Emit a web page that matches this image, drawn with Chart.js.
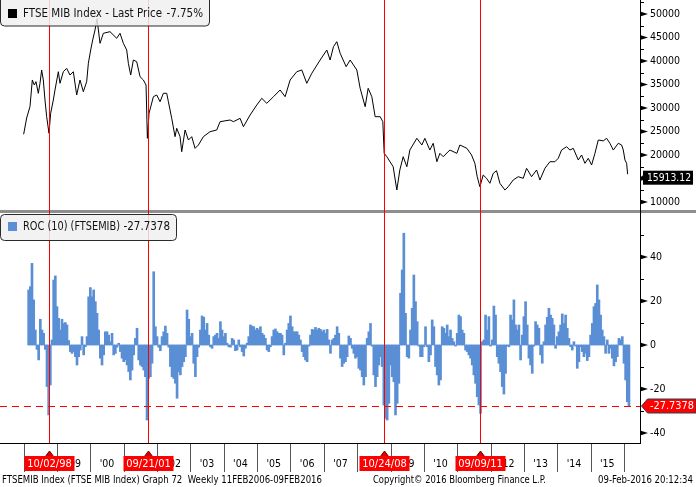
<!DOCTYPE html>
<html>
<head>
<meta charset="utf-8">
<script src="https://cdn.jsdelivr.net/npm/chart.js@4.4.0/dist/chart.umd.min.js"></script>
<style>
  html, body { margin: 0; padding: 0; background: #fff; }
  canvas { display: block; }
</style>
</head>
<body>
<canvas id="chart" width="696" height="487"></canvas>
<script>
// FTSE MIB weekly close (decimal year, index points)
const priceYears = [
  1998.00, 1998.09, 1998.19, 1998.26, 1998.32, 1998.37, 1998.44, 1998.49, 1998.54, 1998.59, 1998.64, 1998.69, 1998.76, 1998.81, 1998.89, 1998.94,
  1999.04, 1999.09, 1999.19, 1999.29, 1999.39, 1999.49, 1999.59, 1999.69, 1999.79, 1999.89, 1999.94,
  2000.01, 2000.07, 2000.14, 2000.20, 2000.29, 2000.39, 2000.59, 2000.79, 2000.89, 2000.99,
  2001.09, 2001.14, 2001.21, 2001.29, 2001.39, 2001.49, 2001.59, 2001.67, 2001.71, 2001.76, 2001.89, 2001.99,
  2002.09, 2002.19, 2002.29, 2002.34, 2002.44, 2002.54, 2002.59, 2002.69, 2002.74, 2002.84, 2002.94,
  2003.04, 2003.14, 2003.24, 2003.39, 2003.59, 2003.79, 2003.89,
  2004.19, 2004.29, 2004.49, 2004.59, 2004.79, 2004.99,
  2005.14, 2005.29, 2005.49, 2005.69, 2005.84, 2005.99,
  2006.19, 2006.34, 2006.49, 2006.64, 2006.89,
  2007.09, 2007.19, 2007.29, 2007.39, 2007.49, 2007.67, 2007.79, 2007.89, 2007.99,
  2008.09, 2008.24, 2008.33, 2008.44, 2008.54, 2008.69, 2008.77, 2008.81, 2008.89,
  2009.08, 2009.19, 2009.28, 2009.38, 2009.49, 2009.58, 2009.79, 2009.94,
  2010.03, 2010.18, 2010.28, 2010.39, 2010.48, 2010.58, 2010.78, 2010.99,
  2011.08, 2011.29, 2011.43, 2011.53, 2011.60, 2011.68, 2011.78, 2011.88, 2011.98,
  2012.08, 2012.18, 2012.28, 2012.43, 2012.53, 2012.68, 2012.83, 2012.98,
  2013.08, 2013.23, 2013.38, 2013.48, 2013.63, 2013.78, 2013.93,
  2014.03, 2014.13, 2014.28, 2014.38, 2014.48, 2014.63, 2014.73, 2014.83, 2014.93,
  2015.03, 2015.13, 2015.23, 2015.38, 2015.48, 2015.58, 2015.68, 2015.83, 2015.93, 2015.98,
  2016.03, 2016.08, 2016.11
]
const priceVals = [
  24400, 27870, 30280, 35960, 34890, 35600, 33130, 35250, 38090, 35960, 31700, 28150, 24620, 28870, 31700, 33830,
  37720, 35250, 37720, 38440, 37020, 37720, 32770, 35960, 33470, 35600, 39510,
  42340, 44470, 46600, 49000, 43760, 45900, 46240, 44830, 45900, 43760,
  42340, 39510, 37020, 40210, 39850, 36660, 35960, 34890, 23550, 28870, 32400, 32770,
  31340, 33130, 33130, 31340, 27800, 23900, 25680, 23900, 20700, 25320, 23190,
  23900, 21420, 22130, 23900, 24960, 25320, 27090,
  27450, 27090, 27800, 26020, 28510, 30640,
  32060, 31000, 32400, 33830, 32400, 35960,
  37720, 38090, 35250, 37380, 40210,
  42340, 40210, 43050, 44110, 41640, 38790, 40210, 39150, 38090,
  34190, 30280, 34190, 32400, 28150, 28150, 27090, 20360, 19640,
  17510, 12550, 16810, 19640, 17510, 21060, 23550, 22130,
  23550, 21060, 22490, 18570, 20360, 19640, 21060, 20360,
  22130, 21420, 20000, 18230, 15380, 13250, 15740, 15040, 13980,
  16100, 16660, 13980, 12550, 13250, 14680, 15380, 15040,
  17170, 15380, 16810, 14680, 17170, 18570, 18570,
  19300, 21060, 21770, 21060, 21420, 18940, 20000, 18230, 19300,
  17870, 20360, 23190, 23000, 23550, 22490, 21060, 22490, 22130, 21060,
  18940, 18230, 15913.12
]

// ROC(10) in %, sampled every 0.05 year from 1998.15
const rocStart = 1998.15
const rocStep = 0.05
const rocVals = [
  25.0, 26.5, 37.1, 20.5, 6.8, -2, -6.8, 11.7, 6.8, 5.3,
  -2, -18.9, -31.8, -18.2, 2.3, 29.5, 31.4, 17.4, 12.1, 6.8,
  11.7, 9.8, 10.2, 9.1, 2, -3, -3.8, -3, -5.3, -9.1,
  -5.3, -2.3, 3.8, -4.5, -0.8, 3.8, 21.9, 26.1, 21.9, 25,
  19.7, 14.4, 6.8, -6, -9.1, -4.5, 6, 6, 4.5, 1.5,
  5.3, -4.5, -3.8, -1, 0.8, -3, -6, -7.6, -6.8, -9.1,
  -12.1, -15.9, -11.4, -4.5, 3, 7.6, -6.8, -9.1, -9.8, -11.4,
  -14.4, -34.1, -15.2, -14.4, -8.3, 33.3, 8.3, 3.8, -1, -2.6,
  3.8, 6, 8.6, 5.3, -1, -9.8, -14.4, -15.2, -17.4, -24.2,
  -12.1, -13.6, -9.8, -7.6, -5.3, 15.9, 11.7, 3.8, 5.3, -8.3,
  -14.4, -5.3, -1, 6.8, 13.2, 12.6, 6.8, 9.8, 4.5, -0.8,
  -1.5, 3.8, 4.5, 5.3, 3, 10.6, 6.8, 3.8, 5.3, 0.8,
  -0.8, -1, 3, 2.3, -2.6, -2.3, 2.3, -0.8, -3, -5,
  -1.5, 0.8, 3.8,
  9.1, 8.6, 8.3, 6.8, 7.6, 6.8, 8.3, 5.3, 4.5, 3,
  -2.3, -3, -0.8, 3.8, 6.8, 7.3, 6, 5.3, 5.3, 4.5,
  -4.5, 0.8, 6.8, 9.8, 13.2, 8.3, 6, 6, 6, 4.5,
  2.3, -3, -5.3, -6.8, -7.6, -0.5, 4.5, 7.1, 6.8, 8,
  6.8, 7.6, 7.1, 6, 6.8, 5.3, 7.1, 2.3, -3.8, 2.3,
  3, 4.5, 8.3, 5.3, -6, -9.8, -8.3, -7.6, -5.3, 4.1,
  3, -1.5, -3.8, -6, -5.3, -10.6, -11.4, -14.4, -18.2, -14.4,
  3, 6, 9.8, -0.5, -13.6, -18.9, -14.4, -9.1, -5.3, -9.8,
  -27.3, -33.3, -34.1, -26.5, -9.1, -14.4, -16.7, -31.8, -26.5, -17.4,
  23.5, 34.1, 50.8, 14.4, -5.3, -6, 6.8, 16.7, 31.8, 19.7,
  10.6, -0.5, -5.3, -5.3, -0.8, 8.3, -0.8, -7.6, -4.5, 11.4,
  8.3, -9.8, -13.6, -18.2, -15.9, 8.3, 7.6, 5.3, 9.1, 3.8,
  6.8, 3, 1.5, -0.5, 5.3, 13.6, 12.9, 6.8, 5.3,
  -2.3, -3, -4.5, -6, -9.1, -13.6, -17.4, -23.5, -27.3, -31.1,
  1.5, 2.3, 13.6, 6.8, 12.9, -0.5, 2.3, 17.7, 13.6, -5.3,
  -8.3, -12.1, -18.9, -22.3, -12.9, -0.5, -0.8, 13.6, 11.4, 20.5,
  9.1, 6.8, 9.1, -6.8, 4.5, 12.9, 19.7, 9.1, -6, -9.1,
  -12.9, -0.5, 10.6, 9.1, 7.6, -4.5, -8.3, 1.5, 9.1, 12.6,
  16.7, 13.6, 12.1, 9.1, -1.5, 3.8, 6, 9.1, 14.1, 9.8,
  13.6, 7.6, 3, -0.8, -2.3, 1.5, -0.5, -10.6, -7.6, -0.8,
  -3, -5.3, -3.8, -7.1, -5.3, 4.5, 9.8, 17.4, 18.9, 27.3,
  20.5, 13.6, 6.8, 3.8, -3.8, 2.3, -3.8, -1.5, -6, -9.5,
  -7.6, -5.3, 3, 2.3, 3.8, -8.3, -15.9, -25.8, -27.7378
]

const eventDates = [1998.751, 2001.721, 2008.811, 2011.688]
const eventLabels = ['10/02/98', '09/21/01', '10/24/08', '09/09/11']
const yearTicks = [1998, 1999, 2000, 2001, 2002, 2003, 2004, 2005, 2006, 2007, 2008, 2009, 2010, 2011, 2012, 2013, 2014, 2015, 2016]
const priceTicks = [10000, 15000, 20000, 25000, 30000, 35000, 40000, 45000, 50000]
const rocTicks = [-40, -20, 0, 20, 40]
const lastPrice = 15913.12
const lastRoc = -27.7378
const priceChange = '-7.75%'

const FONT = '"DejaVu Sans Condensed", "Liberation Sans", sans-serif'

function label(ctx, s, x, y, size, color, align, maxW) {
      ctx.font = size + 'px ' + FONT
      ctx.fillStyle = color
      ctx.textAlign = align || 'left'
      ctx.textBaseline = 'middle'
      if (maxW) ctx.fillText(s, x, y, maxW)
      else ctx.fillText(s, x, y)
}

function roundBox(ctx, x, y, w, h, rad) {
      ctx.beginPath()
      ctx.moveTo(x + rad, y)
      ctx.lineTo(x + w - rad, y)
      ctx.quadraticCurveTo(x + w, y, x + w, y + rad)
      ctx.lineTo(x + w, y + h - rad)
      ctx.quadraticCurveTo(x + w, y + h, x + w - rad, y + h)
      ctx.lineTo(x + rad, y + h)
      ctx.quadraticCurveTo(x, y + h, x, y + h - rad)
      ctx.lineTo(x, y + rad)
      ctx.quadraticCurveTo(x, y, x + rad, y)
      ctx.closePath()
}

const overlay = {
      id: 'overlay',
      afterDatasetsDraw(chart) {
            const ctx = chart.ctx
            const area = chart.chartArea
            const x = chart.scales.x
            const y = chart.scales.y
            const r = chart.scales.r
            const W = chart.width
            ctx.save()

            // pane separator
            ctx.fillStyle = '#8e8e8e'
            ctx.fillRect(0, y.bottom - 1, W, 3)

            // event lines
            ctx.strokeStyle = '#ff0000'
            ctx.lineWidth = 1
            eventDates.forEach(d => {
                  const px = Math.round(x.getPixelForValue(d)) + 0.5
                  ctx.beginPath()
                  ctx.moveTo(px, 0)
                  ctx.lineTo(px, area.bottom)
                  ctx.stroke()
            })

            // last ROC dashed level
            const ry = Math.round(r.getPixelForValue(lastRoc)) + 0.5
            ctx.setLineDash([7, 5])
            ctx.beginPath()
            ctx.moveTo(0, ry)
            ctx.lineTo(area.right, ry)
            ctx.stroke()
            ctx.setLineDash([])

            // axes lines
            ctx.strokeStyle = '#000'
            ctx.beginPath()
            ctx.moveTo(area.right + 0.5, 0)
            ctx.lineTo(area.right + 0.5, area.bottom + 1)
            ctx.moveTo(0, area.bottom + 0.5)
            ctx.lineTo(area.right + 1, area.bottom + 0.5)
            ctx.stroke()

            // right ticks
            const drawTicks = (scale, majors, minorStep, fmt) => {
                  const allMinor = []
                  for (let v = majors[0] - minorStep; v <= scale.max; v += minorStep * 2) allMinor.push(v)
                  allMinor.forEach(v => {
                        if (v < scale.min) return
                        const py = Math.round(scale.getPixelForValue(v)) + 0.5
                        ctx.beginPath()
                        ctx.moveTo(area.right, py)
                        ctx.lineTo(area.right + 4, py)
                        ctx.stroke()
                  })
                  majors.forEach(v => {
                        const py = scale.getPixelForValue(v)
                        ctx.fillStyle = '#000'
                        ctx.beginPath()
                        ctx.moveTo(area.right, py - 2.5)
                        ctx.lineTo(area.right + 8, py)
                        ctx.lineTo(area.right, py + 2.5)
                        ctx.closePath()
                        ctx.fill()
                        label(ctx, fmt(v), area.right + 10, py, 10.5, '#000')
                  })
            }
            drawTicks(y, priceTicks, 2500, v => String(v))
            drawTicks(r, rocTicks, 10, v => String(v))

            // year ticks and labels
            ctx.strokeStyle = '#555'
            yearTicks.forEach((yr, i) => {
                  const px = Math.round(x.getPixelForValue(yr)) + 0.5
                  if (px < area.right) {
                        ctx.beginPath()
                        ctx.moveTo(px, area.bottom + 1)
                        ctx.lineTo(px, area.bottom + 29)
                        ctx.stroke()
                  }
                  const mid = x.getPixelForValue(yr + 0.5)
                  if (mid < area.right - 8) {
                        label(ctx, "'" + String(yr).slice(2), mid, area.bottom + 21, 10.5, '#000', 'center')
                  }
            })

            // event date boxes
            eventDates.forEach((d, i) => {
                  const px = Math.round(x.getPixelForValue(d)) + 0.5
                  ctx.fillStyle = '#e00000'
                  ctx.strokeStyle = '#600'
                  ctx.beginPath()
                  ctx.moveTo(px - 4.5, area.bottom + 14)
                  ctx.lineTo(px, area.bottom + 8)
                  ctx.lineTo(px + 4.5, area.bottom + 14)
                  ctx.closePath()
                  ctx.fill()
                  ctx.stroke()
                  ctx.fillStyle = '#ff0000'
                  ctx.fillRect(px - 25, area.bottom + 13, 50, 15)
                  label(ctx, eventLabels[i], px, area.bottom + 21, 11, '#fff', 'center', 47)
            })

            // legends
            ctx.lineWidth = 1
            roundBox(ctx, 0.5, -4.5, 209, 30.5, 4)
            ctx.fillStyle = 'rgba(240,240,240,0.85)'
            ctx.fill()
            ctx.strokeStyle = '#2a2a2a'
            ctx.stroke()
            ctx.fillStyle = '#000'
            ctx.fillRect(8, 9, 9, 9)
            label(ctx, 'FTSE MIB Index - Last Price', 23, 14, 11.5, '#111', 'left', 139)
            label(ctx, priceChange, 203, 14, 11.5, '#111', 'right')

            roundBox(ctx, 0.5, 214.5, 176, 26, 4)
            ctx.fillStyle = 'rgba(240,240,240,0.85)'
            ctx.fill()
            ctx.stroke()
            ctx.fillStyle = '#5a8fd5'
            ctx.fillRect(8, 222, 9, 9)
            label(ctx, 'ROC (10) (FTSEMIB)', 23, 227, 11.5, '#111', 'left', 97)
            label(ctx, String(lastRoc), 170, 227, 11.5, '#111', 'right')

            // last value tags
            const py = y.getPixelForValue(lastPrice) + 3.5
            ctx.fillStyle = '#000'
            ctx.beginPath()
            ctx.moveTo(area.right + 1, py)
            ctx.lineTo(area.right + 4, py - 4)
            ctx.lineTo(area.right + 4, py + 4)
            ctx.closePath()
            ctx.fill()
            ctx.fillRect(area.right + 3, py - 7, 50, 14)
            label(ctx, lastPrice.toFixed(2), area.right + 7, py, 11, '#fff', 'left', 44)

            const rc = r.getPixelForValue(lastRoc)
            ctx.fillStyle = '#ff0000'
            ctx.strokeStyle = '#3a3a4a'
            ctx.beginPath()
            ctx.moveTo(area.right + 1.5, rc)
            ctx.lineTo(area.right + 7.5, rc - 7)
            ctx.lineTo(W, rc - 7)
            ctx.lineTo(W, rc + 7)
            ctx.lineTo(area.right + 7.5, rc + 7)
            ctx.closePath()
            ctx.fill()
            ctx.stroke()
            label(ctx, String(lastRoc), area.right + 10, rc, 11, '#fff', 'left', 44)

            // footer
            label(ctx, 'FTSEMIB Index (FTSE MIB Index) Graph 72  Weekly 11FEB2006-09FEB2016', 2, 480, 10, '#000', 'left', 320)
            label(ctx, 'Copyright\u00a9 2016 Bloomberg Finance L.P.', 373, 480, 10, '#000', 'left', 173)
            label(ctx, '09-Feb-2016 20:12:34', 598, 480, 10, '#000', 'left', 95)

            ctx.restore()
      }
}

const priceData = priceYears.map((t, i) => ({ x: t, y: priceVals[i] }))
const rocData = rocVals.map((v, i) => ({ x: rocStart + i * rocStep, y: v }))

const fixWidth = scale => { scale.width = 56 }
const hiddenAxis = {
      position: 'right',
      stack: 'panes',
      ticks: { display: false },
      grid: { display: false },
      border: { display: false },
      afterFit: fixWidth
}

new Chart(document.getElementById('chart'), {
      type: 'bar',
      data: {
            datasets: [
                  {
                        type: 'line',
                        data: priceData,
                        yAxisID: 'y',
                        borderColor: '#000',
                        borderWidth: 1,
                        pointRadius: 0,
                        tension: 0
                  },
                  {
                        type: 'bar',
                        data: rocData,
                        yAxisID: 'r',
                        backgroundColor: '#5a8fd5',
                        borderWidth: 0,
                        barThickness: 2
                  }
            ]
      },
      options: {
            responsive: false,
            animation: false,
            events: [],
            layout: { padding: { left: 0, right: 0, top: 0, bottom: 44 } },
            plugins: { legend: { display: false }, tooltip: { enabled: false } },
            scales: {
                  x: { type: 'linear', min: 1997.291, max: 2016.481, offset: false, display: false },
                  y: Object.assign({}, hiddenAxis, { stackWeight: 211, min: 8085, max: 52979 }),
                  r: Object.assign({}, hiddenAxis, { stackWeight: 232, min: -44.55, max: 60.9 })
            }
      },
      plugins: [overlay]
})
</script>
</body>
</html>
